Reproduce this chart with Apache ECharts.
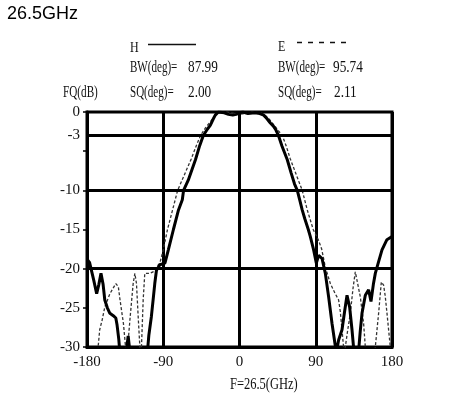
<!DOCTYPE html>
<html><head><meta charset="utf-8">
<script src="https://cdn.jsdelivr.net/npm/echarts@6/dist/echarts.min.js"></script>
<style>html,body{margin:0;padding:0;background:#fff}#c{width:462px;height:397px}</style>
</head><body><div id="c"></div>
<script>
// Data
const xTicks = [-180, -90, 0, 90, 180];
const yLabelValues = [0, -3, -10, -15, -20, -25, -30];
const refLines = [-3, -10, -20];
const hPattern = [[-180,-18.8],[-177,-19.2],[-172,-21.5],[-168.6,-23.2],[-166,-22],[-163.5,-20.6],[-161,-22],[-159,-24],[-156,-25],[-153,-25.7],[-149,-26],[-146,-26.3],[-144.5,-27.2],[-142.5,-29],[-141,-31],[-138,-33],[-134,-31],[-131.4,-28.6],[-129,-31],[-126,-33],[-112,-33],[-109,-31],[-107,-28.5],[-104,-26.1],[-101.5,-23.5],[-100,-21.9],[-98,-20.2],[-94,-19.5],[-88,-19.3],[-84,-17.6],[-78,-15],[-72,-12.5],[-67.5,-11.2],[-66,-10],[-60.5,-8.7],[-52,-6.1],[-47,-4.3],[-42.7,-3],[-38,-2.2],[-34.5,-1.7],[-31,-0.9],[-28.6,-0.4],[-25,0],[-18,-0.1],[-13,-0.3],[-8,-0.4],[-4,-0.3],[0,-0.1],[4,0],[10,-0.2],[18,-0.1],[24,-0.2],[28.5,-0.4],[32,-0.8],[36.4,-1.4],[40,-1.8],[43,-2.3],[46,-3],[50,-4.3],[56.4,-6.1],[61,-7.8],[65,-9.2],[68.2,-10],[71,-11.2],[74,-12.5],[77,-13.6],[81.2,-15],[83.6,-15.9],[87.5,-17.6],[90.7,-19.3],[93.4,-18.3],[97.4,-18.7],[101.3,-20.6],[105.2,-23.6],[109.2,-27],[113,-29.8],[115,-30.3],[117,-29.1],[121,-27.8],[124,-25.5],[126.9,-23.4],[130,-24.9],[132.8,-27.8],[135,-30.5],[138,-32],[140.6,-30.5],[142.5,-28],[144.6,-25.7],[148.5,-23.4],[152.4,-22.7],[155.2,-24.2],[158,-22],[160.3,-20.6],[164.2,-19.1],[168.2,-17.6],[174,-16.3],[180,-15.9]];
const ePattern = [[-180,-33],[-168,-33],[-166.7,-29.8],[-165,-27.8],[-162,-26.5],[-159,-24.9],[-153,-23.2],[-146,-21.9],[-143,-22.3],[-141,-24],[-137,-27],[-134.5,-30],[-133.5,-31.5],[-132,-30],[-129,-26.1],[-125.5,-21.9],[-123.5,-20.6],[-121.6,-21.9],[-119.6,-26.1],[-117.6,-30],[-116.7,-31.5],[-115.7,-30],[-113.7,-24],[-111.8,-20.6],[-106,-20.6],[-102,-20.4],[-98,-19.8],[-94,-19.3],[-90,-17.6],[-85,-15],[-79,-12.5],[-73,-10],[-65,-8],[-57,-6],[-51,-4.3],[-46,-3],[-40,-2],[-34,-1.2],[-29,-0.4],[-25,-0.1],[-15,0],[-5,-0.2],[0,-0.3],[5,-0.2],[15,0],[25,-0.1],[30,-0.4],[35,-0.9],[41,-1.7],[46,-2.4],[50.5,-3],[55,-4.3],[60,-6],[67,-8],[74,-10],[80,-12.5],[87,-15],[93,-16.3],[97,-17.5],[101.3,-19.8],[107.2,-21.9],[113,-23.2],[117,-24],[119,-25.5],[121,-27.8],[122.8,-30],[123.8,-31.5],[124.9,-30],[127.5,-28],[130.8,-25.7],[134,-22.5],[136.7,-20.4],[138.7,-20.4],[142.6,-23.6],[146.5,-27],[148.5,-30],[149.5,-32],[159,-32],[160.3,-30],[164.2,-25.7],[167.4,-21.7],[170.1,-22.1],[172,-23.5],[174.1,-25.7],[178,-30],[180,-32]];

const SERIF = '"Liberation Serif", "DejaVu Serif", serif';
function t(x, y, text, size, sx, extra) {
  return Object.assign({type:'text', x:x, y:y, scaleX:sx, silent:true,
    style:{text:text, x:0, y:0, font: size + 'px ' + SERIF, fill:'#111', verticalAlign:'middle', align:'left'}}, extra || {});
}
const chart = echarts.init(document.getElementById('c'), null, {renderer:'canvas'});
chart.setOption({
  animation:false,
  backgroundColor:'#fff',
  grid:{left:87, right:70, top:112, bottom:50, show:true, borderColor:'#000', borderWidth:3, backgroundColor:'transparent'},
  xAxis:{type:'value', min:-180, max:180, interval:90,
    axisLine:{show:true, onZero:false, lineStyle:{color:'#000', width:3}},
    axisTick:{show:false},
    splitLine:{show:true, lineStyle:{color:'#000', width:3}},
    axisLabel:{color:'#111', fontFamily:SERIF, fontSize:15, margin:8,
      formatter:v => xTicks.indexOf(v) >= 0 ? String(v) : ''}
  },
  yAxis:[{type:'value', min:-30, max:0, interval:1,
    axisLine:{show:true, onZero:false, lineStyle:{color:'#000', width:3}},
    axisTick:{show:false}, splitLine:{show:false},
    axisLabel:{color:'#111', fontFamily:SERIF, fontSize:15, margin:7,
      formatter:v => yLabelValues.indexOf(v) >= 0 ? String(v) : ''}
  },{type:'value', min:-30, max:0, interval:5, position:'left',
    axisLine:{show:false, onZero:false}, axisLabel:{show:false}, splitLine:{show:false},
    axisTick:{show:true, inside:false, length:4, lineStyle:{color:'#000', width:1.5}}
  }],
  series:[
    {type:'line', name:'E', data:ePattern, showSymbol:false, symbol:'none', clip:true,
      lineStyle:{color:'#333', width:1.3, type:[3,2]}, z:3},
    {type:'line', name:'H', data:hPattern, showSymbol:false, symbol:'none', clip:true,
      lineStyle:{color:'#000', width:3}, z:4,
      markLine:{silent:true, symbol:['none','none'], label:{show:false},
        lineStyle:{color:'#000', width:3, type:'solid'},
        data: refLines.map(v => ({yAxis:v}))}
    }
  ],
  graphic:[
    {type:'text', x:7, y:14, silent:true, style:{text:'26.5GHz', font:'18px "Liberation Sans", Arial, sans-serif', fill:'#000', verticalAlign:'middle'}},
    t(130, 48, 'H', 15, 0.8),
    {type:'line', silent:true, shape:{x1:148, y1:44.5, x2:196, y2:44.5}, style:{stroke:'#111', lineWidth:1.5}},
    t(278, 47, 'E', 15, 0.8),
    {type:'line', silent:true, shape:{x1:297, y1:42.5, x2:350, y2:42.5}, style:{stroke:'#111', lineWidth:1.3, lineDash:[5,6]}},
    t(130, 67.5, 'BW(deg)=', 16, 0.69),
    t(188, 67.5, '87.99', 16, 0.83),
    t(278, 67.5, 'BW(deg)=', 16, 0.69),
    t(333, 67.5, '95.74', 16, 0.83),
    t(63, 93, 'FQ(dB)', 16, 0.7),
    t(130, 93, 'SQ(deg)=', 16, 0.69),
    t(188, 93, '2.00', 16, 0.83),
    t(278, 93, 'SQ(deg)=', 16, 0.69),
    t(334, 93, '2.11', 16, 0.83),
    t(230, 385, 'F=26.5(GHz)', 16, 0.78)
  ]
});
</script></body></html>
